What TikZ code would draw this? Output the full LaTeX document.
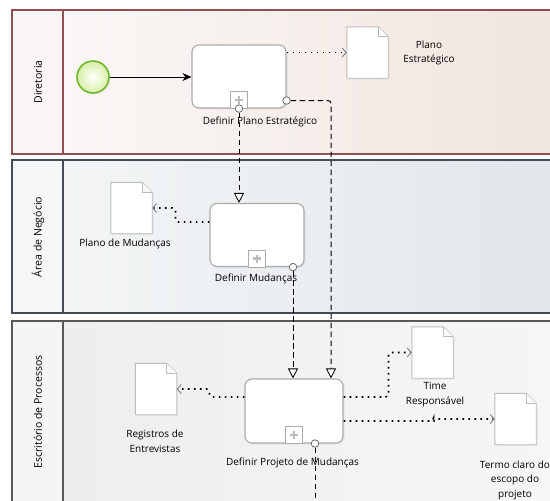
\documentclass[tikz,border=0pt]{standalone}
\usepackage{fontspec}
\setmainfont{Open Sans}
\usetikzlibrary{arrows.meta,shadows,calc}
\definecolor{laneA}{HTML}{8E5050}
\definecolor{laneB}{HTML}{464C55}
\definecolor{laneC}{HTML}{585858}
\definecolor{taskc}{HTML}{ABABAB}
\definecolor{docc}{HTML}{BDBDBD}
\definecolor{evg}{HTML}{72B62E}
\definecolor{evfill}{HTML}{D6EFA6}
\definecolor{l1a}{RGB}{250,247,246}
\definecolor{l1b}{RGB}{240,229,222}
\definecolor{l1h}{RGB}{249,245,244}
\definecolor{l2a}{RGB}{243,245,246}
\definecolor{l2b}{RGB}{224,230,234}
\definecolor{l2h}{RGB}{244,246,247}
\definecolor{l3a}{RGB}{238,238,238}
\definecolor{l3b}{RGB}{246,246,246}
\definecolor{l3h}{RGB}{245,245,245}
\begin{document}
\begin{tikzpicture}[x=1pt,y=-1pt,
  lbl/.style={font=\fontsize{10}{14.5}\selectfont, align=center, text=black, inner sep=0},
  hdr/.style={font=\fontsize{10.5}{12}\selectfont, rotate=90, text=black, inner sep=0},
  task/.style={draw=taskc, line width=1.1pt, fill=white, rounded corners=7pt,
    minimum width=94pt, minimum height=63pt, inner sep=0,
    drop shadow={opacity=0.12, shadow xshift=1.5pt, shadow yshift=-1.5pt}},
  docbox/.style={minimum width=41pt, minimum height=51pt, inner sep=0},
  docline/.style={draw=docc, line width=0.9pt, fill=white, line join=round},
  marker/.style={draw=taskc, line width=1pt, fill=white, minimum width=17pt, minimum height=17pt, inner sep=0},
  bcirc/.style={circle, draw=gray!85!black, line width=0.8pt, fill=white, minimum size=7.5pt, inner sep=0},
  msg/.style={line width=1pt, dash pattern=on 5.5pt off 3.5pt, rounded corners=3pt,
    -{Triangle[open, length=10pt, width=10pt, fill=white, line width=0.8pt]}},
  assoc/.style={line width=1.7pt, dash pattern=on 1.7pt off 4.3pt, rounded corners=3pt,
    -{Straight Barb[length=4pt, width=9pt, line width=0.9pt, color=gray]}},
  seq/.style={line width=0.9pt, -{Stealth[length=9pt, width=8pt]}}
]
\useasboundingbox (0,0) rectangle (550,501);
\clip (0,0) rectangle (550,501);
\fill[white] (0,0) rectangle (550,501);

% ---------- lanes ----------
\shade[left color=l1a, right color=l1b] (63,10) rectangle (560,154);
\fill[l1h] (12,10) rectangle (63,154);
\draw[laneA, line width=1.4pt] (12,10) rectangle (560,154);
\draw[laneA, line width=1.4pt] (63,10) -- (63,154);

\shade[left color=l2a, right color=l2b] (63,160) rectangle (560,313);
\fill[l2h] (12,160) rectangle (63,313);
\draw[laneB, line width=1.4pt] (12,160) rectangle (560,313);
\draw[laneB, line width=1.4pt] (63,160) -- (63,313);

\shade[left color=l3a, right color=l3b] (63,321) rectangle (560,520);
\fill[l3h] (12,321) rectangle (63,520);
\draw[laneC, line width=1.4pt] (12,321) rectangle (560,520);
\draw[laneC, line width=1.4pt] (63,321) -- (63,520);

\node[hdr] (h1) at (38,82) {Diretoria};
\node[hdr] (h2) at (38,237) {Área de Negócio};
\node[hdr] (h3) at (38,412) {Escritório de Processos};

% ---------- start event ----------
\node[circle, draw=evg, line width=1.6pt, inner color=white, outer color=evfill,
      minimum size=32pt, inner sep=0,
      drop shadow={opacity=0.12, shadow xshift=1.5pt, shadow yshift=-1.5pt}] (se) at (93,77) {};

% ---------- tasks ----------
\node[task] (t1) at (239,76.5) {};
\node[task] (t2) at (257,235) {};
\node[task, minimum width=98pt, minimum height=64pt] (t3) at (294,411) {};

\foreach \t in {t1,t2,t3}{
  \node[marker] (m\t) at ([yshift=8.5pt]\t.south) {};
  \draw[taskc!80, line width=2.2pt] ([xshift=-4pt]m\t.center) -- ([xshift=4pt]m\t.center)
        ([yshift=-4pt]m\t.center) -- ([yshift=4pt]m\t.center);
}

\node[lbl] (t1l) at (260,122) {Definir Plano Estratégico};
\node[lbl] (t2l) at (256,279) {Definir Mudanças};
\node[lbl] (t3l) at (292.5,463) {Definir Projeto de Mudanças};

% ---------- data objects ----------
\foreach \n/\x/\y in {pe/367.5/52.5, pm/131.5/208, re/156/389, tr/432.5/352.5, tc/515.5/419}{
  \node[docbox] (\n) at (\x,\y) {};
  \draw[docline, drop shadow={opacity=0.12, shadow xshift=1.5pt, shadow yshift=-1.5pt}]
     (\n.south west) -- (\n.north west) -- ([xshift=-10pt]\n.north east)
     -- ([yshift=-10pt]\n.north east) -- (\n.south east) -- cycle;
  \draw[docc, line width=0.7pt, fill=white!95!gray] ([xshift=-10pt]\n.north east) -- ([xshift=-10pt,yshift=-10pt]\n.north east) -- ([yshift=-10pt]\n.north east);
}
\node[lbl] (pel) at (429,53) {Plano\\Estratégico};
\node[lbl] (pml) at (125,244) {Plano de Mudanças};
\node[lbl] (rel) at (155,441) {Registros de\\Entrevistas};
\node[lbl] (trl) at (435,394.5) {Time\\Responsável};
\node[lbl] (tcl) at (515,480) {Termo claro do\\escopo do\\projeto};

% ---------- sequence flow ----------
\draw[seq] (se.east) -- (t1.west |- se.east);

% ---------- associations ----------
\draw[assoc] (t1.east |- pe.west) -- (pe.west);
\draw[assoc] ([yshift=13pt]t2.west) -- ++(-34,0) |- (pm.east);
\draw[assoc] ([yshift=14pt]t3.west) -- ++(-35,0) |- (re.east);
\draw[assoc] ([yshift=14pt]t3.east) -- ++(45,0) |- (tr.west);
\draw[assoc] ([yshift=-10pt]t3.east) -- ++(90,0) |- (tc.west);

% ---------- message flows ----------
\coordinate (bot) at (315,512);
\node[bcirc] (c1) at (t1.south) {};
\node[bcirc] (c2) at ([yshift=8pt]t1.south east) {};
\node[bcirc] (c3) at ([xshift=36pt]t2.south) {};
\node[bcirc] (c4) at ([xshift=21pt]t3.south) {};
\draw[msg] (c1.south) -- (c1.south |- t2.north);
\draw[msg] (c2.east) -| ([xshift=37pt]t3.north);
\draw[msg] (c3.south) -- (c3.south |- t3.north);
\draw[line width=1pt, dash pattern=on 5.5pt off 3.5pt] (c4.south) -- (c4.south |- bot);
\end{tikzpicture}
\end{document}
